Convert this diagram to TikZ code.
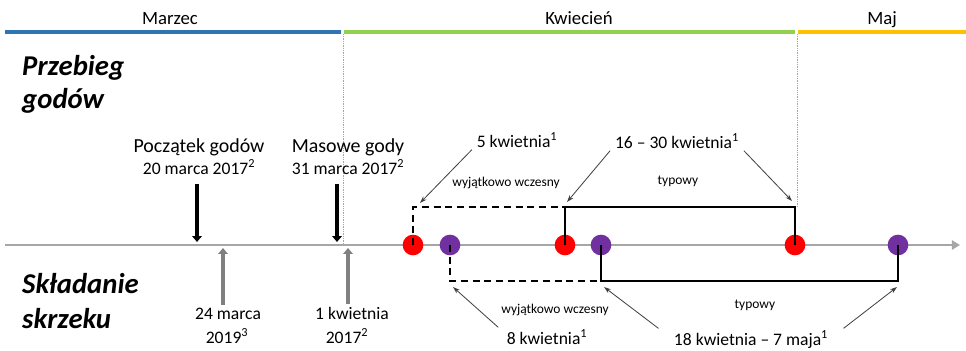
\documentclass[tikz,border=0pt]{standalone}
\usepackage{fontspec}
\setmainfont{Carlito}
\usetikzlibrary{arrows.meta}
\definecolor{marzec}{HTML}{2E75B6}
\definecolor{kwiecien}{HTML}{92D050}
\definecolor{maj}{HTML}{FFC000}
\definecolor{czerwony}{HTML}{FF0000}
\definecolor{fiolet}{HTML}{7030A0}
\definecolor{osszary}{HTML}{A6A6A6}
\definecolor{strzszary}{HTML}{808080}

\begin{document}
\begin{tikzpicture}[
            x=0.03cm, y=-0.03cm,
            month/.style={anchor=base, font=\fontsize{16}{18}\selectfont},
            title/.style={anchor=base west, inner sep=0pt, font=\fontsize{24.5}{28}\selectfont\bfseries\itshape},
            event/.style={anchor=base, inner sep=2pt, font=\fontsize{17}{19}\selectfont},
            date/.style={anchor=base, inner xsep=4pt, inner ysep=2pt, font=\fontsize{15}{18}\selectfont},
            note/.style={anchor=base, inner sep=1pt, font=\fontsize{11.5}{13}\selectfont},
            dot/.style={circle, inner sep=0pt, minimum size=0.62cm},
            bar/.style={line width=3.4pt},
            monthsep/.style={densely dotted, gray!70, line width=0.5pt},
            axis/.style={osszary, line width=2.4pt, -{Triangle[width=8pt,length=7pt]}},
            gody/.style={line width=3.4pt, -{Triangle[width=8pt,length=5pt]}},
            skrzek/.style={strzszary, line width=3.6pt, -{Triangle[width=8pt,length=5pt]}},
            bracket/.style={line width=1.8pt},
            pointer/.style={black!75, line width=0.7pt, -{Stealth[length=6pt,width=4pt]}}
        ]
            \useasboundingbox (0,0) rectangle (966,350);

            % Miesiace
            \draw[bar, marzec] (5,32) -- (341,32);
            \draw[bar, kwiecien] (344,32) -- (795,32);
            \draw[bar, maj] (798,32) -- (966,32);
            \node[month] (marzec) at (170,24) {Marzec};
            \node[month] (kwiecien) at (579,24) {Kwiecień};
            \node[month] (maj) at (882,24) {Maj};
            \draw[monthsep] (343,34) -- (343,245);
            \draw[monthsep] (797,34) -- (797,207);

            % Tytuly wierszy
            \node[title] (przebieg) at (22,75) {Przebieg};
            \node[title] (godow) at (22,108) {godów};
            \node[title] (skladanie) at (22,293) {Składanie};
            \node[title] (skrzeku) at (22,328) {skrzeku};

            % Os czasu
            \coordinate (os0) at (5,245);
            \coordinate (os1) at (960,245);
            \draw[axis] (os0) -- (os1);

            % Gody
            \node[event] (pocz) at (199,152) {Początek godów};
            \node[date] (poczdata) at (199,174) {20 marca 2017\textsuperscript{2}};
            \node[event] (masowe) at (348,152) {Masowe gody};
            \node[date] (masowedata) at (348,174) {31 marca 2017\textsuperscript{2}};
            \coordinate (g1) at (197,242);
            \coordinate (g2) at (337,242);
            \draw[gody, shorten <=6pt] (poczdata.south -| g1) -- (g1);
            \draw[gody, shorten <=6pt] (masowedata.south -| g2) -- (g2);

            % Skrzek - pierwsze obserwacje
            \node[date] (m24) at (228,319) {24 marca};
            \node[date] (m24rok) at (227,343) {2019\textsuperscript{3}};
            \node[date] (k1) at (352,319) {1 kwietnia};
            \node[date] (k1rok) at (347,343) {2017\textsuperscript{2}};
            \coordinate (s1) at (223,248);
            \coordinate (s2) at (348,248);
            \draw[skrzek] (m24.north -| s1) -- (s1);
            \draw[skrzek] (k1.north -| s2) -- (s2);

            % Punkty
            \node[dot, fill=czerwony] (r1) at (413,245) {};
            \node[dot, fill=czerwony] (r2) at (565,245) {};
            \node[dot, fill=czerwony] (r3) at (795,245) {};
            \node[dot, fill=fiolet] (p1) at (450,245) {};
            \node[dot, fill=fiolet] (p2) at (601,245) {};
            \node[dot, fill=fiolet] (p3) at (898,245) {};

            % Zakresy
            \coordinate (gtop) at (0,207);
            \coordinate (sbot) at (0,281);
            \draw[bracket, dashed, dash pattern=on 6pt off 4pt] (r1.center) |- (r2.center |- gtop);
            \draw[bracket] (r2.center) |- (r3.center |- gtop) -- (r3.center);
            \draw[bracket, dashed, dash pattern=on 6pt off 4pt] (p1.center) |- (p2.center |- sbot);
            \draw[bracket] (p2.center) |- (p3.center |- sbot) -- (p3.center);

            % Opisy gody
            \node[date] (k5) at (517,147) {5 kwietnia\textsuperscript{1}};
            \node[date] (k1630) at (677,148) {16 -- 30 kwietnia\textsuperscript{1}};
            \node[note] (wcz1) at (506,186) {wyjątkowo wczesny};
            \node[note] (typ1) at (678,184) {typowy};
            \coordinate (t5) at (420,203);
            \coordinate (t16) at (567,202);
            \coordinate (t30) at (792,201);
            \draw[pointer] (k5.south west) -- (t5);
            \draw[pointer] (k1630.south west) -- (t16);
            \draw[pointer] (k1630.south east) -- (t30);

            % Opisy skrzek
            \node[date, inner xsep=7pt] (k8) at (547,344) {8 kwietnia\textsuperscript{1}};
            \node[date, inner xsep=13pt] (k18) at (751,345) {18 kwietnia -- 7 maja\textsuperscript{1}};
            \node[note] (wcz2) at (555,313) {wyjątkowo wczesny};
            \node[note] (typ2) at (755,308) {typowy};
            \coordinate (t8) at (453,287);
            \coordinate (t18) at (604,287);
            \coordinate (t7) at (897,287);
            \draw[pointer] (k8.north west) -- (t8);
            \draw[pointer] (k18.north west) -- (t18);
            \draw[pointer] (k18.north east) -- (t7);
        \end{tikzpicture}
\end{document}
